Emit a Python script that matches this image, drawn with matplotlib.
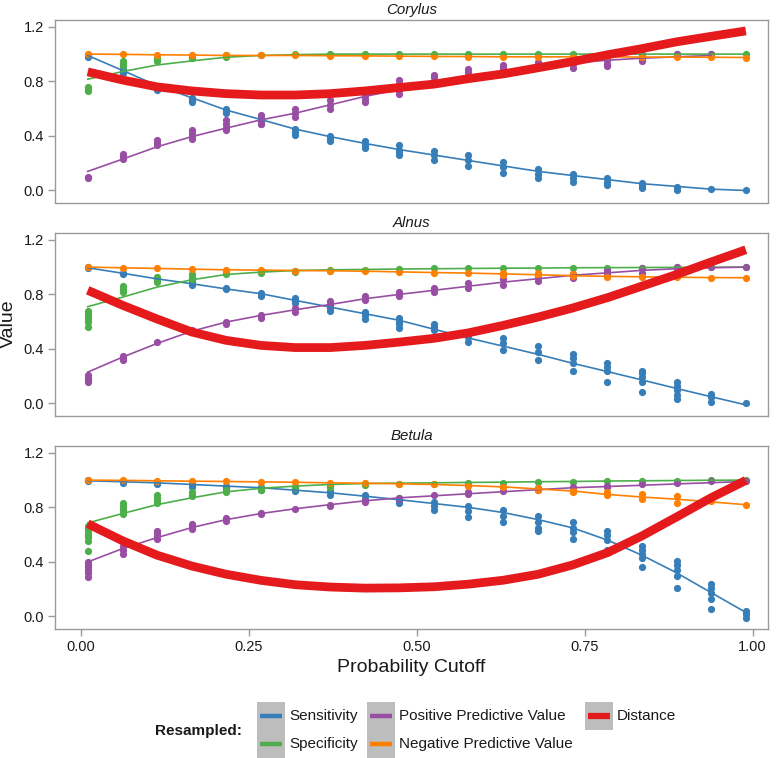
import matplotlib
matplotlib.use('Agg')
import matplotlib.pyplot as plt
from matplotlib.patches import Rectangle
from matplotlib.lines import Line2D

plt.rcParams['font.family'] = ['Liberation Sans', 'DejaVu Sans']

W, H = 780, 758

cutoff = [0.010, 0.062, 0.113, 0.165, 0.216, 0.268, 0.319, 0.371, 0.423, 0.474,
          0.526, 0.577, 0.629, 0.681, 0.732, 0.784, 0.835, 0.887, 0.938, 0.990]

species = ['Corylus', 'Alnus', 'Betula']
metrics = ['Sensitivity', 'Specificity', 'Positive Predictive Value', 'Negative Predictive Value']
colors = ['#377EB8', '#4DAF4A', '#984EA3', '#FF7F00']
dist_color = '#E41A1C'

# ---- Corylus
corylus_sens_pts = [[0.99, 0.98], [0.89, 0.87, 0.86], [0.76, 0.75, 0.74], [0.68, 0.66, 0.65],
                    [0.60, 0.58, 0.57], [0.53, 0.51, 0.49], [0.45, 0.43, 0.41], [0.40, 0.38, 0.36],
                    [0.36, 0.33, 0.31], [0.33, 0.30, 0.28, 0.26], [0.29, 0.26, 0.22], [0.26, 0.22, 0.18],
                    [0.21, 0.17, 0.13], [0.16, 0.12, 0.09], [0.12, 0.09, 0.06], [0.09, 0.06, 0.04],
                    [0.055, 0.035, 0.02], [0.025, 0.005], [0.01], [0.0]]
corylus_sens_fit = [0.99, 0.88, 0.77, 0.68, 0.59, 0.52, 0.45, 0.395, 0.345, 0.30,
                    0.26, 0.22, 0.18, 0.14, 0.11, 0.08, 0.05, 0.03, 0.01, 0.0]
corylus_spec_pts = [[0.76, 0.74, 0.73], [0.95, 0.93, 0.91], [0.97, 0.96, 0.95], [0.98, 0.97],
                    [0.99, 0.98], [0.99], [1.0], [1.0], [1.0], [1.0], [1.0], [1.0], [1.0], [1.0],
                    [1.0], [1.0], [1.0], [1.0], [1.0], [1.0]]
corylus_spec_fit = [0.816, 0.872, 0.92, 0.95, 0.977, 0.99, 0.996, 1.0, 1.0, 1.0,
                    1.0, 1.0, 1.0, 1.0, 1.0, 1.0, 1.0, 1.0, 1.0, 1.0]
corylus_ppv_pts = [[0.10, 0.09], [0.27, 0.25, 0.23], [0.37, 0.35, 0.33], [0.44, 0.42, 0.40, 0.38],
                   [0.52, 0.49, 0.46, 0.44], [0.55, 0.52, 0.49], [0.60, 0.57, 0.54], [0.66, 0.63, 0.60],
                   [0.70, 0.67, 0.65], [0.81, 0.78, 0.74, 0.71], [0.85, 0.83, 0.80], [0.89, 0.87, 0.84],
                   [0.92, 0.90, 0.885], [0.94, 0.92, 0.91], [0.96, 0.93, 0.90], [1.0, 0.96, 0.93, 0.91],
                   [0.99, 0.97, 0.95], [1.0], [1.0], []]
corylus_ppv_fit = [0.14, 0.23, 0.32, 0.395, 0.457, 0.518, 0.567, 0.628, 0.69, 0.74,
                   0.79, 0.835, 0.875, 0.91, 0.935, 0.955, 0.97, 0.98, 0.99, None]
corylus_npv_pts = [[1.0], [0.998], [0.995], [0.993], [0.99], [0.99], [0.99], [0.988], [0.987], [0.985],
                   [0.983], [0.982], [0.98], [0.98], [0.98], [0.98], [0.978], [0.978], [0.977], [0.975]]
corylus_npv_fit = [1.0, 0.998, 0.995, 0.993, 0.99, 0.99, 0.99, 0.988, 0.987, 0.985,
                   0.983, 0.982, 0.98, 0.98, 0.98, 0.98, 0.978, 0.978, 0.977, 0.975]
corylus_dist = [0.87, 0.81, 0.76, 0.73, 0.71, 0.70, 0.70, 0.71, 0.73, 0.755,
                0.78, 0.82, 0.855, 0.90, 0.945, 0.995, 1.04, 1.09, 1.13, 1.17]

# ---- Alnus
alnus_sens_pts = [[1.0, 0.99], [0.96, 0.95], [0.92, 0.91], [0.89, 0.87], [0.85, 0.84], [0.81, 0.79],
                  [0.77, 0.75, 0.74], [0.72, 0.70, 0.68], [0.67, 0.65, 0.62], [0.63, 0.60, 0.58, 0.55],
                  [0.58, 0.56, 0.54], [0.52, 0.49, 0.45], [0.48, 0.44, 0.39], [0.42, 0.38, 0.32],
                  [0.36, 0.33, 0.30, 0.24], [0.30, 0.27, 0.24, 0.16], [0.24, 0.22, 0.195, 0.16, 0.085],
                  [0.16, 0.13, 0.10, 0.06, 0.03], [0.07, 0.05, 0.01], [0.005]]
alnus_sens_fit = [0.995, 0.955, 0.914, 0.878, 0.84, 0.805, 0.756, 0.707, 0.658, 0.61,
                  0.544, 0.48, 0.42, 0.36, 0.295, 0.234, 0.173, 0.11, 0.05, -0.01]
alnus_spec_pts = [[0.68, 0.66, 0.64, 0.62, 0.60, 0.56], [0.86, 0.84, 0.82], [0.93, 0.91, 0.89],
                  [0.95, 0.93, 0.91], [0.96, 0.95], [0.97, 0.96], [0.975, 0.965], [0.98, 0.97],
                  [0.98], [0.985], [0.99], [0.99], [0.99], [0.99], [0.993], [0.995], [0.997],
                  [0.998], [1.0], [1.0]]
alnus_spec_fit = [0.71, 0.78, 0.853, 0.907, 0.946, 0.963, 0.975, 0.98, 0.983, 0.986,
                  0.988, 0.99, 0.992, 0.993, 0.995, 0.996, 0.997, 0.998, 0.999, 1.0]
alnus_ppv_pts = [[0.21, 0.19, 0.17, 0.16], [0.35, 0.33, 0.32], [0.45], [0.54], [0.60, 0.58],
                 [0.65, 0.63], [0.70, 0.67], [0.75, 0.72], [0.79, 0.76], [0.82, 0.79], [0.85, 0.82],
                 [0.88, 0.85], [0.91, 0.87], [0.93, 0.90], [0.95, 0.92], [0.98, 0.95], [0.99, 0.96],
                 [1.0, 0.975], [1.0], [1.0]]
alnus_ppv_fit = [0.23, 0.34, 0.44, 0.53, 0.597, 0.646, 0.687, 0.726, 0.768, 0.80,
                 0.83, 0.86, 0.89, 0.915, 0.94, 0.958, 0.976, 0.988, 0.995, 1.0]
alnus_npv_pts = [[1.0], [0.997], [0.99], [0.985], [0.98, 0.975], [0.98], [0.975], [0.975], [0.97],
                 [0.965], [0.96], [0.956], [0.96, 0.945], [0.955, 0.94], [0.95, 0.935], [0.93],
                 [0.928], [0.926], [0.922], [0.922]]
alnus_npv_fit = [1.0, 0.995, 0.99, 0.985, 0.98, 0.978, 0.975, 0.973, 0.97, 0.965,
                 0.96, 0.956, 0.95, 0.944, 0.937, 0.932, 0.929, 0.926, 0.923, 0.922]
alnus_dist = [0.83, 0.72, 0.62, 0.524, 0.463, 0.426, 0.41, 0.41, 0.426, 0.45,
              0.478, 0.518, 0.573, 0.634, 0.70, 0.776, 0.86, 0.946, 1.037, 1.127]

# ---- Betula
betula_sens_pts = [[1.0, 0.99], [0.99, 0.98], [0.98, 0.97], [0.97, 0.95], [0.96, 0.94], [0.95, 0.93],
                   [0.94, 0.92], [0.92, 0.89], [0.89, 0.86], [0.87, 0.85, 0.83], [0.84, 0.81, 0.78],
                   [0.81, 0.77, 0.73], [0.78, 0.74, 0.69], [0.74, 0.69, 0.65, 0.63],
                   [0.69, 0.65, 0.62, 0.57], [0.63, 0.60, 0.56, 0.485], [0.52, 0.49, 0.46, 0.43, 0.36],
                   [0.41, 0.38, 0.34, 0.30, 0.21], [0.24, 0.21, 0.17, 0.13, 0.056], [0.04, 0.015, -0.01]]
betula_sens_fit = [0.995, 0.988, 0.98, 0.968, 0.956, 0.944, 0.926, 0.907, 0.882, 0.856,
                   0.828, 0.80, 0.762, 0.71, 0.65, 0.56, 0.45, 0.32, 0.176, 0.03]
betula_spec_pts = [[0.66, 0.64, 0.62, 0.60, 0.58, 0.55, 0.48], [0.83, 0.81, 0.79, 0.77, 0.75],
                   [0.89, 0.87, 0.85, 0.83], [0.91, 0.89, 0.88], [0.93, 0.91], [0.94, 0.93],
                   [0.95, 0.94], [0.96, 0.95], [0.965], [0.97], [0.975], [0.98], [0.98], [0.985],
                   [0.985], [0.99], [0.99], [0.995], [1.0], [1.0]]
betula_spec_fit = [0.686, 0.755, 0.82, 0.87, 0.914, 0.94, 0.956, 0.968, 0.975, 0.978,
                   0.98, 0.983, 0.985, 0.988, 0.99, 0.993, 0.995, 0.997, 0.999, 1.0]
betula_ppv_pts = [[0.40, 0.38, 0.36, 0.34, 0.32, 0.29], [0.55, 0.52, 0.49, 0.46],
                  [0.63, 0.61, 0.59, 0.57], [0.68, 0.66, 0.64], [0.72, 0.70], [0.76, 0.75], [0.79],
                  [0.82, 0.81], [0.85, 0.84], [0.87, 0.86], [0.89], [0.91, 0.90], [0.92], [0.94, 0.93],
                  [0.95], [0.96, 0.95], [0.97], [0.98], [0.99], [0.99]]
betula_ppv_fit = [0.40, 0.498, 0.578, 0.652, 0.71, 0.755, 0.79, 0.82, 0.848, 0.87,
                  0.885, 0.90, 0.915, 0.93, 0.944, 0.953, 0.962, 0.972, 0.981, 0.99]
betula_npv_pts = [[1.0], [1.0], [0.995], [0.99], [0.99], [0.985], [0.985], [0.98], [0.98], [0.975],
                  [0.97], [0.96], [0.95], [0.94, 0.93], [0.93, 0.91], [0.91, 0.89], [0.90, 0.86],
                  [0.88, 0.83], [0.85], [0.82]]
betula_npv_fit = [1.0, 0.998, 0.995, 0.992, 0.99, 0.987, 0.984, 0.98, 0.977, 0.973,
                  0.968, 0.96, 0.95, 0.935, 0.92, 0.895, 0.876, 0.86, 0.84, 0.82]
betula_dist = [0.68, 0.555, 0.45, 0.37, 0.31, 0.265, 0.233, 0.216, 0.208, 0.21,
               0.218, 0.237, 0.266, 0.31, 0.378, 0.468, 0.59, 0.73, 0.87, 0.998]

panels = {
    'Corylus': ([corylus_sens_pts, corylus_spec_pts, corylus_ppv_pts, corylus_npv_pts],
                [corylus_sens_fit, corylus_spec_fit, corylus_ppv_fit, corylus_npv_fit], corylus_dist),
    'Alnus': ([alnus_sens_pts, alnus_spec_pts, alnus_ppv_pts, alnus_npv_pts],
              [alnus_sens_fit, alnus_spec_fit, alnus_ppv_fit, alnus_npv_fit], alnus_dist),
    'Betula': ([betula_sens_pts, betula_spec_pts, betula_ppv_pts, betula_npv_pts],
               [betula_sens_fit, betula_spec_fit, betula_ppv_fit, betula_npv_fit], betula_dist),
}

frame_col = '#9a9a9a'
text_col = '#1a1a1a'

fig = plt.figure(figsize=(W / 100, H / 100), dpi=100)

# panel boxes in pixels (top, bottom)
boxes = [(20, 202.5), (233, 415.5), (446, 628.5)]
left_px, right_px = 55, 768

for k, name in enumerate(species):
    top, bot = boxes[k]
    ax = fig.add_axes([left_px / W, (H - bot) / H, (right_px - left_px) / W, (bot - top) / H])
    pts, fits, dist = panels[name]

    for pset, col in zip(pts, colors):
        xs = [cutoff[i] for i, vals in enumerate(pset) for v in vals]
        ys = [v for vals in pset for v in vals]
        ax.plot(xs, ys, 'o', ms=5.2, color=col, mec='none', zorder=2)
    for fit, col in zip(fits, colors):
        xs = [c for c, v in zip(cutoff, fit) if v is not None]
        ys = [v for v in fit if v is not None]
        ax.plot(xs, ys, '-', lw=1.2, color=col, zorder=3)
    ax.plot(cutoff, dist, '-', lw=6.3, color=dist_color, solid_capstyle='butt', zorder=4)

    ax.set_xlim(-0.0387, 1.023)
    ax.set_ylim(-0.088, 1.25)
    ax.set_yticks([0.0, 0.4, 0.8, 1.2])
    ax.set_yticklabels(['0.0', '0.4', '0.8', '1.2'])
    ax.set_xticks([0.0, 0.25, 0.5, 0.75, 1.0])
    if k == 2:
        ax.set_xticklabels(['0.00', '0.25', '0.50', '0.75', '1.00'])
    else:
        ax.tick_params(axis='x', bottom=False, labelbottom=False)
    ax.tick_params(colors=frame_col, labelcolor=text_col, labelsize=10.5, length=5, width=1, pad=3)
    for sp in ax.spines.values():
        sp.set_color(frame_col)
        sp.set_linewidth(1.0)
    ax.set_title(name, fontsize=10.8, style='italic', color=text_col, pad=4.5)

fig.text(8.5 / W, 1 - 324 / H, 'Value', rotation=90, ha='center', va='center', fontsize=14, color=text_col)
fig.text(411.5 / W, 1 - 667 / H, 'Probability Cutoff', ha='center', va='center', fontsize=14, color=text_col)

# legend drawn in a pixel-coordinate overlay
lax = fig.add_axes([0, 0, 1, 1], facecolor='none')
lax.set_xlim(0, W)
lax.set_ylim(H, 0)
lax.axis('off')
lax.text(155, 731, 'Resampled:', fontsize=11, fontweight='bold', ha='left', va='center', color=text_col)

legend_labels = metrics + ['Distance']
legend_colors = colors + [dist_color]
key_x = [257, 257, 367, 367, 585]
key_y = [702, 730, 702, 730, 702]
for lab, col, kx, ky in zip(legend_labels, legend_colors, key_x, key_y):
    lax.add_patch(Rectangle((kx, ky), 28, 28, color='#bdbdbd', lw=0))
    lw = 4.5 if lab == 'Distance' else 3.2
    lax.add_line(Line2D([kx + 3, kx + 25], [ky + 14, ky + 14], color=col, lw=lw, solid_capstyle='butt'))
    lax.text(kx + 32, ky + 14, lab, fontsize=11, ha='left', va='center', color=text_col)

fig.savefig('out.png', dpi=100)
